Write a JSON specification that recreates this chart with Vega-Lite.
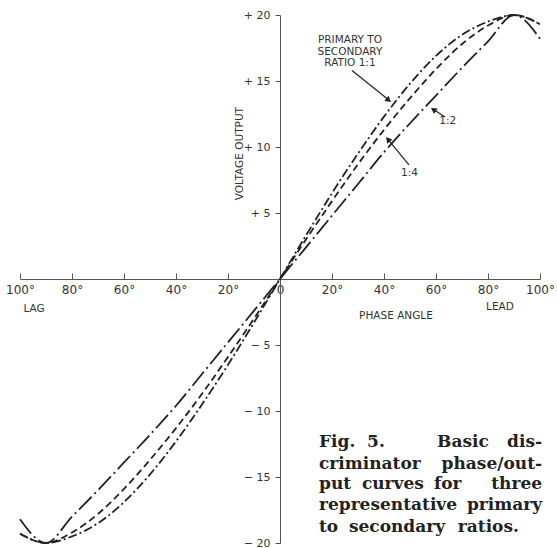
{
  "$schema": "https://vega.github.io/schema/vega-lite/v6.json",
  "width": 520,
  "height": 528,
  "autosize": "none",
  "padding": {"left": 20, "top": 15, "right": 17, "bottom": 5},
  "background": "white",
  "config": {"view": {"stroke": null}, "axis": {"grid": false}},
  "datasets": {
    "curves": [
      {"series": "1:1", "phase": -100, "v": -19.3},
      {"series": "1:1", "phase": -90, "v": -20},
      {"series": "1:1", "phase": -80, "v": -19.5},
      {"series": "1:1", "phase": -70, "v": -18.5},
      {"series": "1:1", "phase": -60, "v": -16.9},
      {"series": "1:1", "phase": -50, "v": -14.8},
      {"series": "1:1", "phase": -40, "v": -12.3},
      {"series": "1:1", "phase": -30, "v": -9.5},
      {"series": "1:1", "phase": -20, "v": -6.5},
      {"series": "1:1", "phase": -10, "v": -3.3},
      {"series": "1:1", "phase": 0, "v": 0},
      {"series": "1:1", "phase": 10, "v": 3.3},
      {"series": "1:1", "phase": 20, "v": 6.5},
      {"series": "1:1", "phase": 30, "v": 9.5},
      {"series": "1:1", "phase": 40, "v": 12.3},
      {"series": "1:1", "phase": 50, "v": 14.8},
      {"series": "1:1", "phase": 60, "v": 16.9},
      {"series": "1:1", "phase": 70, "v": 18.5},
      {"series": "1:1", "phase": 80, "v": 19.5},
      {"series": "1:1", "phase": 90, "v": 20},
      {"series": "1:1", "phase": 100, "v": 19.3},
      {"series": "1:4", "phase": -100, "v": -19.3},
      {"series": "1:4", "phase": -90, "v": -20},
      {"series": "1:4", "phase": -80, "v": -19.2},
      {"series": "1:4", "phase": -70, "v": -17.8},
      {"series": "1:4", "phase": -60, "v": -15.9},
      {"series": "1:4", "phase": -50, "v": -13.7},
      {"series": "1:4", "phase": -40, "v": -11.3},
      {"series": "1:4", "phase": -30, "v": -8.7},
      {"series": "1:4", "phase": -20, "v": -5.9},
      {"series": "1:4", "phase": -10, "v": -3.0},
      {"series": "1:4", "phase": 0, "v": 0},
      {"series": "1:4", "phase": 10, "v": 3.0},
      {"series": "1:4", "phase": 20, "v": 5.9},
      {"series": "1:4", "phase": 30, "v": 8.7},
      {"series": "1:4", "phase": 40, "v": 11.3},
      {"series": "1:4", "phase": 50, "v": 13.7},
      {"series": "1:4", "phase": 60, "v": 15.9},
      {"series": "1:4", "phase": 70, "v": 17.8},
      {"series": "1:4", "phase": 80, "v": 19.2},
      {"series": "1:4", "phase": 90, "v": 20},
      {"series": "1:4", "phase": 100, "v": 19.3},
      {"series": "1:2", "phase": -100, "v": -18.2},
      {"series": "1:2", "phase": -90, "v": -20},
      {"series": "1:2", "phase": -80, "v": -18.0},
      {"series": "1:2", "phase": -70, "v": -16.0},
      {"series": "1:2", "phase": -60, "v": -13.9},
      {"series": "1:2", "phase": -50, "v": -11.8},
      {"series": "1:2", "phase": -40, "v": -9.6},
      {"series": "1:2", "phase": -30, "v": -7.2},
      {"series": "1:2", "phase": -20, "v": -4.8},
      {"series": "1:2", "phase": -10, "v": -2.4},
      {"series": "1:2", "phase": 0, "v": 0},
      {"series": "1:2", "phase": 10, "v": 2.4},
      {"series": "1:2", "phase": 20, "v": 4.8},
      {"series": "1:2", "phase": 30, "v": 7.2},
      {"series": "1:2", "phase": 40, "v": 9.6},
      {"series": "1:2", "phase": 50, "v": 11.8},
      {"series": "1:2", "phase": 60, "v": 13.9},
      {"series": "1:2", "phase": 70, "v": 16.0},
      {"series": "1:2", "phase": 80, "v": 18.0},
      {"series": "1:2", "phase": 90, "v": 20},
      {"series": "1:2", "phase": 100, "v": 18.2}
    ],
    "labels": [
      {"x": 26.9, "y": 18.1, "text": "PRIMARY TO"},
      {"x": 26.9, "y": 17.2, "text": "SECONDARY"},
      {"x": 26.9, "y": 16.35, "text": "RATIO 1:1"},
      {"x": 64.5, "y": 12.0, "text": "1:2"},
      {"x": 49.8, "y": 8.0, "text": "1:4"},
      {"x": -94.6, "y": -2.3, "text": "LAG"},
      {"x": 44.6, "y": -2.8, "text": "PHASE ANGLE"},
      {"x": 84.6, "y": -2.1, "text": "LEAD"}
    ],
    "arrows": [
      {"x": 27.7, "y": 15.8, "x2": 42.2, "y2": 13.5},
      {"x": 63.5, "y": 12.27, "x2": 58.6, "y2": 12.9},
      {"x": 49.6, "y": 8.64, "x2": 41.2, "y2": 10.65}
    ],
    "capLeft": [
      {"x": 15.0, "y": -12.35, "text": "Fig."},
      {"x": 33.5, "y": -12.35, "text": "5."},
      {"x": 60.4, "y": -12.35, "text": "Basic"},
      {"x": 15.0, "y": -14.0, "text": "criminator"},
      {"x": 15.0, "y": -15.55, "text": "put"},
      {"x": 31.5, "y": -15.55, "text": "curves"},
      {"x": 59.2, "y": -15.55, "text": "for"},
      {"x": 15.0, "y": -17.15, "text": "representative"},
      {"x": 15.0, "y": -18.8, "text": "to"},
      {"x": 26.5, "y": -18.8, "text": "secondary"}
    ],
    "capRight": [
      {"x": 100.8, "y": -12.35, "text": "dis-"},
      {"x": 100.8, "y": -14.0, "text": "phase/out-"},
      {"x": 100.8, "y": -15.55, "text": "three"},
      {"x": 100.8, "y": -17.15, "text": "primary"},
      {"x": 91.9, "y": -18.8, "text": "ratios."}
    ]
  },
  "layer": [
    {
      "data": {"name": "curves"},
      "mark": {"type": "line", "interpolate": "monotone", "strokeWidth": 1.8, "color": "#222"},
      "encoding": {
        "x": {
          "field": "phase", "type": "quantitative",
          "scale": {"domain": [-100, 100], "nice": false, "zero": false},
          "axis": {
            "orient": "bottom", "offset": -264,
            "values": [-100, -80, -60, -40, -20, 0, 20, 40, 60, 80, 100],
            "labelExpr": "datum.value == 0 ? '0' : abs(datum.value) + '°'",
            "tickSize": -6, "labelPadding": 11, "title": null,
            "domainColor": "#555", "tickColor": "#555",
            "labelFont": "DejaVu Sans", "labelFontSize": 12, "labelColor": "#333",
            "labelOverlap": false, "labelFlush": false
          }
        },
        "y": {
          "field": "v", "type": "quantitative",
          "scale": {"domain": [-20, 20], "nice": false, "zero": false},
          "axis": {
            "orient": "left", "offset": -260,
            "values": [-20, -15, -10, -5, 5, 10, 15, 20],
            "labelExpr": "datum.value > 0 ? '+ ' + datum.value : '− ' + abs(datum.value)",
            "tickSize": 5, "labelPadding": 5, "title": null,
            "domainColor": "#555", "tickColor": "#555",
            "labelFont": "DejaVu Sans", "labelFontSize": 11, "labelColor": "#333",
            "labelOverlap": false, "labelFlush": false
          }
        },
        "detail": {"field": "series"},
        "strokeDash": {
          "field": "series", "type": "nominal",
          "scale": {"domain": ["1:1", "1:4", "1:2"], "range": [[9, 3, 2, 3], [7, 4], [18, 4, 2, 4]]},
          "legend": null
        }
      }
    },
    {
      "data": {"name": "arrows"},
      "mark": {"type": "rule", "color": "#222", "strokeWidth": 1.2},
      "encoding": {
        "x": {"field": "x", "type": "quantitative"},
        "y": {"field": "y", "type": "quantitative"},
        "x2": {"field": "x2"},
        "y2": {"field": "y2"}
      }
    },
    {
      "data": {"values": [{"x": 41.8, "y": 13.55}]},
      "mark": {"type": "point", "shape": "triangle-right", "filled": true, "size": 45, "color": "#222", "opacity": 1, "angle": 39.4},
      "encoding": {"x": {"field": "x", "type": "quantitative"}, "y": {"field": "y", "type": "quantitative"}}
    },
    {
      "data": {"values": [{"x": 59.0, "y": 12.83}]},
      "mark": {"type": "point", "shape": "triangle-right", "filled": true, "size": 45, "color": "#222", "opacity": 1, "angle": 212.7},
      "encoding": {"x": {"field": "x", "type": "quantitative"}, "y": {"field": "y", "type": "quantitative"}}
    },
    {
      "data": {"values": [{"x": 41.5, "y": 10.58}]},
      "mark": {"type": "point", "shape": "triangle-right", "filled": true, "size": 45, "color": "#222", "opacity": 1, "angle": 230.6},
      "encoding": {"x": {"field": "x", "type": "quantitative"}, "y": {"field": "y", "type": "quantitative"}}
    },
    {
      "data": {"name": "labels"},
      "mark": {"type": "text", "font": "DejaVu Sans", "fontSize": 10.5, "color": "#333", "align": "center", "baseline": "middle"},
      "encoding": {
        "x": {"field": "x", "type": "quantitative"},
        "y": {"field": "y", "type": "quantitative"},
        "text": {"field": "text"}
      }
    },
    {
      "data": {"values": [{"x": -15.4, "y": 9.5, "text": "VOLTAGE OUTPUT"}]},
      "mark": {"type": "text", "font": "DejaVu Sans", "fontSize": 10.5, "color": "#333", "align": "center", "baseline": "middle", "angle": 270},
      "encoding": {
        "x": {"field": "x", "type": "quantitative"},
        "y": {"field": "y", "type": "quantitative"},
        "text": {"field": "text"}
      }
    },
    {
      "data": {"name": "capLeft"},
      "mark": {"type": "text", "font": "DejaVu Serif", "fontWeight": "bold", "fontSize": 17, "color": "#222", "align": "left", "baseline": "middle"},
      "encoding": {
        "x": {"field": "x", "type": "quantitative"},
        "y": {"field": "y", "type": "quantitative"},
        "text": {"field": "text"}
      }
    },
    {
      "data": {"name": "capRight"},
      "mark": {"type": "text", "font": "DejaVu Serif", "fontWeight": "bold", "fontSize": 17, "color": "#222", "align": "right", "baseline": "middle"},
      "encoding": {
        "x": {"field": "x", "type": "quantitative"},
        "y": {"field": "y", "type": "quantitative"},
        "text": {"field": "text"}
      }
    }
  ]
}
